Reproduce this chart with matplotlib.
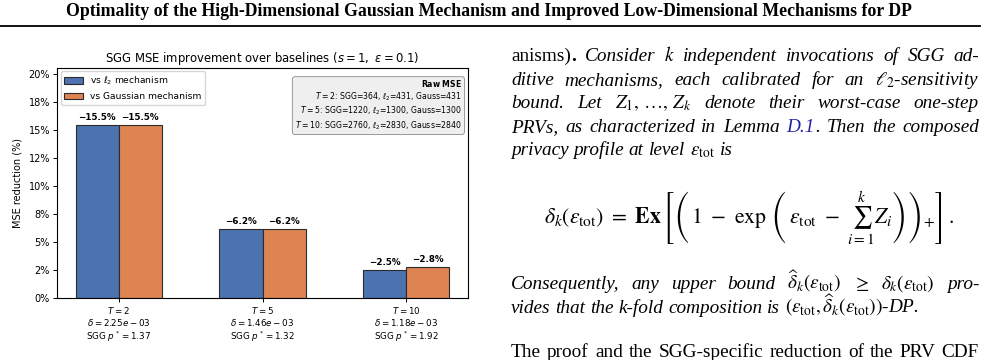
import numpy as np
import matplotlib
matplotlib.use("Agg")
import matplotlib.pyplot as plt
from matplotlib.lines import Line2D
from matplotlib.ticker import PercentFormatter

W, H = 986, 360

# chart data
steps = [2, 5, 10]
deltas = [2.25e-3, 1.46e-3, 1.18e-3]
p_star = [1.37, 1.32, 1.92]
vs_l2 = [15.5, 6.2, 2.5]
vs_gauss = [15.5, 6.2, 2.8]
mse_sgg = [364, 1220, 2760]
mse_l2 = [431, 1300, 2830]
mse_gauss = [431, 1300, 2840]

blue = "#4C72B0"
orange = "#DD8452"

fig = plt.figure(figsize=(W / 100, H / 100), dpi=100)
r = fig.canvas.get_renderer()

def fx(x):
    return x / W

def fy(y):
    return 1 - y / H

def fit(t, size, target):
    # rescale a text so its width matches the target width in pixels
    w = t.get_window_extent(r).width
    t.set_fontsize(size * target / w)

# ---------------- chart ----------------
ax = fig.add_axes([fx(57), fy(298), (468 - 57) / W, (298 - 67.5) / H])
x = np.arange(len(steps))
width = 0.3
ax.bar(x - width / 2, vs_l2, width, color=blue, edgecolor="#2b2b2b", linewidth=0.8,
       label=r"vs $\ell_2$ mechanism")
ax.bar(x + width / 2, vs_gauss, width, color=orange, edgecolor="#2b2b2b", linewidth=0.8,
       label="vs Gaussian mechanism")
for xi, v in zip(x - width / 2, vs_l2):
    ax.text(xi, v + 0.25, f"\u2212{v:.1f}%", ha="center", va="bottom", fontsize=6.3, fontweight="bold")
for xi, v in zip(x + width / 2, vs_gauss):
    ax.text(xi, v + 0.25, f"\u2212{v:.1f}%", ha="center", va="bottom", fontsize=6.3, fontweight="bold")

ax.set_ylim(0, max(vs_l2 + vs_gauss) * 1.33)
ax.yaxis.set_major_formatter(PercentFormatter(decimals=0))
ax.set_xticks(x)
ax.set_xticklabels([f"$T={t}$\n$\\delta={d:.2e}$\nSGG $p^*={p:.2f}$"
                    for t, d, p in zip(steps, deltas, p_star)], fontsize=6.3, linespacing=1.15)
ax.tick_params(axis="y", labelsize=7)
ax.tick_params(length=3, width=0.7, pad=2)
ax.set_ylabel("MSE reduction (%)", fontsize=7, labelpad=4)
title = ax.set_title(r"SGG MSE improvement over baselines ($s=1,\ \varepsilon=0.1$)",
                     fontsize=8, pad=4)
fit(title, 8, 315)
ax.legend(loc="upper left", fontsize=6.6, borderaxespad=0.4)
for s in ax.spines.values():
    s.set_linewidth(0.8)

raw = r"$\bf{Raw\ MSE}$" + "".join(
    f"\n$T={t}$: SGG={a}, $\\ell_2$={b}, Gauss={c}"
    for t, a, b, c in zip(steps, mse_sgg, mse_l2, mse_gauss))
ax.text(0.985, 0.955, raw, transform=ax.transAxes, ha="right", va="top", fontsize=5.6,
        multialignment="right", linespacing=1.2,
        bbox=dict(boxstyle="round,pad=0.35", facecolor="#efefef", edgecolor="#999999", linewidth=0.7))

# ---------------- paper page ----------------
serif = "Liberation Serif"
body = 13.9

head = fig.text(fx(489), fy(12), "Optimality of the High-Dimensional Gaussian Mechanism and "
                "Improved Low-Dimensional Mechanisms for DP", family=serif, weight="bold",
                fontsize=12, ha="center", va="center")
fit(head, 12, 842)
fig.add_artist(Line2D([0, fx(980)], [fy(26), fy(26)], color="black", lw=1.3))

IT = {"style": "italic"}

def words(s, kw=None):
    return [[(w, kw or {})] for w in s.split(" ")]

def place_line(ws, y, x0=511, x1=979, justify=True):
    items = []
    total = 0
    for w in ws:
        pieces = []
        for txt, kw in w:
            t = fig.text(0, 0, txt, fontsize=body, family=serif, math_fontfamily="stix",
                         ha="left", va="baseline", **kw)
            pieces.append((t, t.get_window_extent(r).width))
        wsum = sum(p[1] for p in pieces)
        items.append((pieces, wsum))
        total += wsum
    gap = (x1 - x0 - total) / (len(ws) - 1) if justify else body * 100 / 72 * 0.25
    xc = x0
    for pieces, wsum in items:
        for t, w in pieces:
            t.set_position((fx(xc), fy(y)))
            xc += w
        xc += gap

tot = r"\mathrm{tot}"
place_line([[("anisms)", {}), (".", {"weight": "bold"})]] +
           words("Consider $k$ independent invocations of SGG ad-", IT), 61)
place_line(words(r"ditive mechanisms, each calibrated for an $\ell_2$-sensitivity", IT), 85)
place_line(words(r"bound. Let $Z_1,\,\ldots,\,Z_k$ denote their worst-case one-step", IT), 108)
place_line(words("PRVs, as characterized in Lemma", IT) +
           [[("D.1", {"style": "italic", "color": "#2222aa"}), (".", IT)]] +
           words("Then the composed", IT), 132)
place_line(words(r"privacy profile at level $\varepsilon_{%s}$ is" % tot, IT), 155, justify=False)

eq = (r"$\delta_k(\varepsilon_{%s})\ =\ \mathbf{Ex}\,\left[\left(\,1\ -\ \exp\,\left(\,\varepsilon_{%s}"
      r"\ -\ \sum_{i=1}^{k} Z_i\right)\right)_{+}\right]\,.$" % (tot, tot))
eqt = fig.text(fx(749), fy(217), eq, fontsize=body, math_fontfamily="stix", ha="center", va="center")
fit(eqt, body, 412)

place_line(words(r"Consequently, any upper bound $\widehat{\delta}_k(\varepsilon_{%s})$ $\geq$ "
                 r"$\delta_k(\varepsilon_{%s})$ pro-" % (tot, tot), IT), 289)
place_line(words(r"vides that the k-fold composition is "
                 r"$(\varepsilon_{%s},\widehat{\delta}_k(\varepsilon_{%s}))$-DP." % (tot, tot), IT),
           313, justify=False)
place_line(words("The proof and the SGG-specific reduction of the PRV CDF"), 357)

fig.savefig("out.png", dpi=100)
